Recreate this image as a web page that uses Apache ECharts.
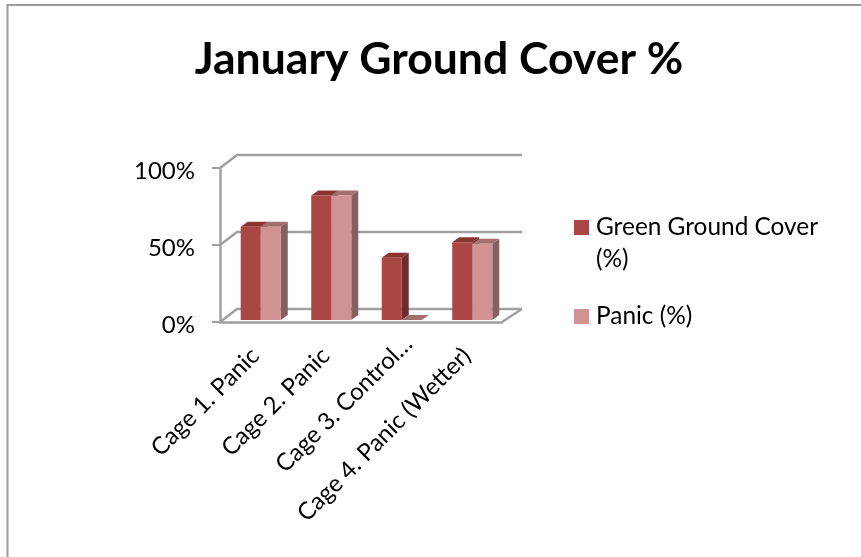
<!DOCTYPE html>
<html><head><meta charset="utf-8">
<style>html,body{margin:0;padding:0;background:#fff}#c{width:861px;height:557px}</style>
<script src="https://cdn.jsdelivr.net/npm/echarts@6/dist/echarts.min.js"></script></head>
<body><div id="c"></div>
<script>
const categories = ['Cage 1. Panic','Cage 2. Panic','Cage 3. Control…','Cage 4. Panic (Wetter)'];
const greenCover = [60,80,40,50];
const panicCover = [60,80,0,49];
const yTicks = [0,50,100];
const FONT = 'Lato';
const GRID = '#a0a0a0', INK = '#000';
const DEPTH_X = 7, DEPTH_Y = 5, WALL_X = 17, WALL_Y = 13, FLOOR_X = 20;
const BAR_FRAC = 0.284, SHIFT_FRAC = 0.078;

function bar(slot, front, side, top) {
  return function (params, api) {
    const v = api.value(1), idx = api.value(0);
    const p0 = api.coord([idx, 0]), p1 = api.coord([idx, v]);
    const band = api.size([1, 0])[0], w = band * BAR_FRAC;
    const x0 = p0[0] + band * SHIFT_FRAC - w + slot * w, x1 = x0 + w;
    const yb = p0[1], yt = p1[1];
    const poly = (pts, fill) => ({type:'polygon', shape:{points:pts}, style:{fill}});
    return {type:'group', children:[
      poly([[x1,yb],[x1+DEPTH_X,yb-DEPTH_Y],[x1+DEPTH_X,yt-DEPTH_Y],[x1,yt]], side),
      poly([[x0,yt],[x1,yt],[x1+DEPTH_X,yt-DEPTH_Y],[x0+DEPTH_X,yt-DEPTH_Y]], top),
      poly([[x0,yb],[x1,yb],[x1,yt],[x0,yt]], front)
    ]};
  };
}
function wall(params, api) {
  const v = api.value(0);
  const band = api.size([1, 0])[0];
  const c0 = api.coord([0, v]), c3 = api.coord([categories.length - 1, v]);
  const xl = c0[0] - band / 2, xr = c3[0] + band / 2, y = c0[1];
  const line = pts => ({type:'polyline', shape:{points:pts}, style:{stroke:GRID, lineWidth:2.5, fill:'none'}});
  const kids = [line([[xl,y],[xl+WALL_X,y-WALL_Y],[xr+FLOOR_X,y-WALL_Y]])];
  if (v === 0) kids.push(line([[xr,y],[xr+FLOOR_X,y-WALL_Y]]));
  return {type:'group', children:kids};
}
const chart = echarts.init(document.getElementById('c'), null, {renderer:'canvas'});
chart.setOption({
  animation:false,
  backgroundColor:'#fff',
  title:{text:'January Ground Cover %', left:434, top:32, textAlign:'center',
    textStyle:{fontFamily:FONT, fontSize:44.5, fontWeight:'bold', color:INK}},
  legend:{orient:'vertical', left:569, top:174.5, itemWidth:15, itemHeight:15, itemGap:25, icon:'rect',
    data:['Green Ground Cover (%)','Panic (%)'],
    formatter:n => n === 'Panic (%)' ? n : '\nGreen Ground Cover\n(%)',
    textStyle:{fontFamily:FONT, fontSize:24.4, color:INK, lineHeight:32, padding:[0,0,0,2]}},
  grid:[
    {left:220, top:168, width:282, height:154},
    {left:220, top:164.5, width:282, height:155.5}
  ],
  xAxis:[
    {type:'category', data:categories, gridIndex:0,
     axisLine:{lineStyle:{color:GRID,width:2.5}}, axisTick:{length:9,lineStyle:{color:GRID,width:2}},
     axisLabel:{rotate:45, interval:0, margin:30, fontFamily:FONT, fontSize:24, color:INK,
       formatter:n => n.endsWith('…') ? '{c|' + n + '}' : n,
       rich:{c:{fontFamily:FONT, fontSize:24, color:INK, padding:[0,-17,0,0]}}}},
    {type:'category', data:categories, gridIndex:1, show:false}
  ],
  yAxis:[
    {type:'value', min:0, max:100, interval:50, gridIndex:0, splitLine:{show:false},
     axisLine:{show:true,lineStyle:{color:GRID,width:2.5}}, axisTick:{show:true,length:8,lineStyle:{color:GRID,width:2}},
     axisLabel:{margin:25, formatter:'{v|{value}%}', fontFamily:FONT, fontSize:24, color:INK,
       rich:{v:{fontFamily:FONT, fontSize:24, color:INK, padding:[6,0,0,0]}}}},
    {type:'value', min:0, max:100, gridIndex:1, show:false, splitLine:{show:false}}
  ],
  series:[
    {type:'custom', name:'grid', xAxisIndex:0, yAxisIndex:0, silent:true, z:1,
     data:yTicks.map(v=>[v]), encode:{y:0}, renderItem:wall},
    {type:'custom', name:'Green Ground Cover (%)', xAxisIndex:1, yAxisIndex:1, z:2,
     itemStyle:{color:'#AA4643'}, data:greenCover.map((v,i)=>[i,v]), encode:{x:0,y:1},
     renderItem:bar(0,'#AA4643','#6F2C2B','#8A3432')},
    {type:'custom', name:'Panic (%)', xAxisIndex:1, yAxisIndex:1, z:3,
     itemStyle:{color:'#D09293'}, data:panicCover.map((v,i)=>[i,v]), encode:{x:0,y:1},
     renderItem:bar(1,'#D09293','#866060','#A36E6E')}
  ],
  graphic:[{type:'polyline', silent:true, shape:{points:[[7.5,557],[7.5,5],[861,5]]},
    style:{stroke:'#9c9c9c', lineWidth:2, fill:'none'}}]
});
</script></body></html>
